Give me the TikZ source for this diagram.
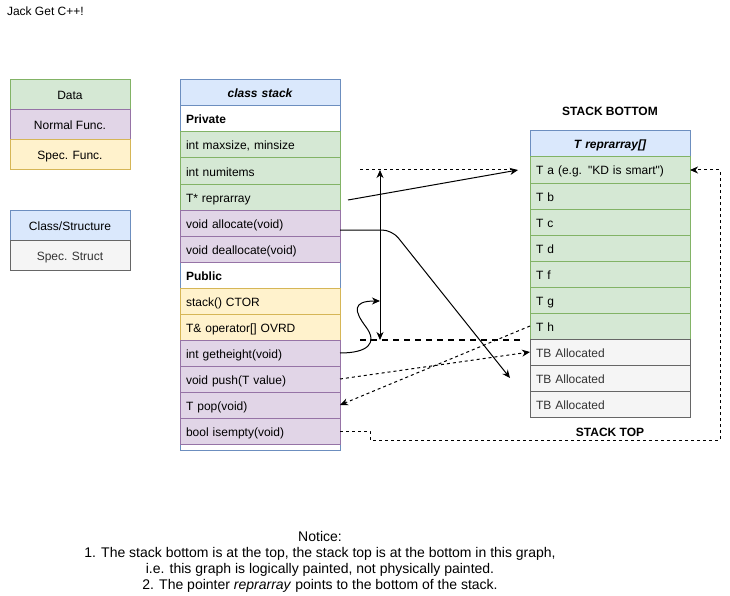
\documentclass[tikz,border=0pt]{standalone}
\usepackage{fontspec}
\setmainfont{Liberation Sans}[Ligatures=TeXOff]
\usetikzlibrary{positioning}
\usetikzlibrary{arrows.meta}
\definecolor{datafill}{HTML}{D5E8D4}
\definecolor{datadraw}{HTML}{82B366}
\definecolor{funcfill}{HTML}{E1D5E7}
\definecolor{funcdraw}{HTML}{9673A6}
\definecolor{specfill}{HTML}{FFF2CC}
\definecolor{specdraw}{HTML}{D6B656}
\definecolor{classfill}{HTML}{DAE8FC}
\definecolor{classdraw}{HTML}{6C8EBF}
\definecolor{structfill}{HTML}{F5F5F5}
\definecolor{structdraw}{HTML}{666666}
\definecolor{structtext}{HTML}{333333}

\begin{document}
\begin{tikzpicture}[x=1pt,y=-1pt,line width=1pt,>={Stealth[length=8pt,width=7pt,inset=2.5pt]},
  every node/.append style={font=\fontsize{12}{14}\selectfont,outer sep=0pt},
  row/.style={shape=rectangle,inner xsep=6pt,inner ysep=0pt,text width=148pt,minimum height=26pt,align=left,text height=11pt,text depth=1pt},
  leg/.style={shape=rectangle,inner sep=0pt,minimum width=120pt,minimum height=30pt,text height=11pt,text depth=1pt},
  datacol/.style={draw=datadraw,fill=datafill},funccol/.style={draw=funcdraw,fill=funcfill},
  speccol/.style={draw=specdraw,fill=specfill},classcol/.style={draw=classdraw,fill=classfill},
  structcol/.style={draw=structdraw,fill=structfill,text=structtext},
  headfont/.style={align=center,font=\fontsize{12}{14}\selectfont\bfseries\itshape},
  boldfont/.style={font=\fontsize{12}{14}\selectfont\bfseries},
  dashline/.style={dash pattern=on 3pt off 3pt},
  thickdash/.style={line width=2pt,dash pattern=on 6pt off 5pt}]
    \useasboundingbox (0,0) rectangle (730,596);
    \node [anchor=west, inner sep=0pt] (TITLE) at (7,11) {Jack Get C++!};
    % legend
    \node [leg, datacol] (LD) at (70,95) {Data};
    \node [leg, funccol, below=0pt of LD] (LN) {Normal Func.};
    \node [leg, speccol, below=0pt of LN] (LS) {Spec. Func.};
    \node [leg, classcol] (LC) at (70,225) {Class/Structure};
    \node [leg, structcol, below=0pt of LC] (LT) {Spec. Struct};
    % class stack
    \node [draw=classdraw, fill=white, minimum width=160pt, minimum height=370pt, anchor=north] (CS) at (260,80) {};
    \node [row, classcol, headfont, anchor=north] (CH) at (CS.north) {class stack};
    \node [row, boldfont, below=0pt of CH] (PV) {Private};
    \node [row, datacol, below=0pt of PV] (MX) {int maxsize, minsize};
    \node [row, datacol, below=0pt of MX] (NI) {int numitems};
    \node [row, datacol, below=0pt of NI] (RP) {T* reprarray};
    \node [row, funccol, below=0pt of RP] (AL) {void allocate(void)};
    \node [row, funccol, below=0pt of AL] (DA) {void deallocate(void)};
    \node [row, boldfont, below=0pt of DA] (PB) {Public};
    \node [row, speccol, below=0pt of PB] (CT) {stack() CTOR};
    \node [row, speccol, below=0pt of CT] (OP) {T\& operator[] OVRD};
    \node [row, funccol, below=0pt of OP] (GH) {int getheight(void)};
    \node [row, funccol, below=0pt of GH] (PU) {void push(T value)};
    \node [row, funccol, below=0pt of PU] (PO) {T pop(void)};
    \node [row, funccol, below=0pt of PO] (IE) {bool isempty(void)};
    % reprarray
    \node [row, classcol, headfont, anchor=north] (AH) at (610,131) {T reprarray[]};
    \node [row, datacol, below=0pt of AH] (RA) {T a (e.g. "KD is smart")};
    \node [row, datacol, below=0pt of RA] (RB) {T b};
    \node [row, datacol, below=0pt of RB] (RC) {T c};
    \node [row, datacol, below=0pt of RC] (RD) {T d};
    \node [row, datacol, below=0pt of RD] (RF) {T f};
    \node [row, datacol, below=0pt of RF] (RG) {T g};
    \node [row, datacol, below=0pt of RG] (RH) {T h};
    \node [row, structcol, below=0pt of RH] (A1) {TB Allocated};
    \node [row, structcol, below=0pt of A1] (A2) {TB Allocated};
    \node [row, structcol, below=0pt of A2] (A3) {TB Allocated};
    \node [boldfont, inner sep=0pt, text height=11pt, text depth=1pt, above=14pt of AH] (SB) {STACK BOTTOM};
    \node [boldfont, inner sep=0pt, text height=11pt, text depth=1pt, below=8pt of A3] (ST) {STACK TOP};
    % notice
    \node [align=center, font=\fontsize{14}{16}\selectfont] (NOTE) at (320,562) {Notice:\\
      1. The stack bottom is at the top, the stack top is at the bottom in this graph,\\
      i.e. this graph is logically painted, not physically painted.\\
      2. The pointer \textit{reprarray} points to the bottom of the stack.};
    % connectors
    \coordinate (DL) at ([xshift=20pt]OP.south east);
    \coordinate (HB) at ([xshift=40pt]OP.south east);
    \coordinate (HT) at (HB |- RA.west);
    \coordinate (DT) at (DL |- RA.west);
    \coordinate (CM) at ([xshift=26pt]OP.east);
    \draw[dashline] (DT) -- ([xshift=-14pt]RA.west);
    \draw[->] ([xshift=8pt,yshift=-3pt]RP.east) -- ([xshift=-12pt]RA.west);
    \draw[<->] (HT) -- (HB);
    \draw[thickdash] (DL) -- ++(160,0);
    \draw[->] (GH.east) .. controls +(28,0) and +(12,16) .. (CM)
      .. controls +(-12,-16) and +(-28,0) .. ([xshift=40pt]CT.east);
    \draw[->, rounded corners=10pt] ([yshift=-7pt]AL.east) -- ++(52,0) -- ([xshift=-20pt]A2.west);
    \draw[->, dashline] (PU.east) -- (A1.west);
    \draw[->, dashline] (RH.west) -- (PO.east);
    \draw[->, dashline] (IE.east) -- ++(30,0) -- ++(0,9) -| ([xshift=30pt]RA.east) -- (RA.east);
\end{tikzpicture}
\end{document}
